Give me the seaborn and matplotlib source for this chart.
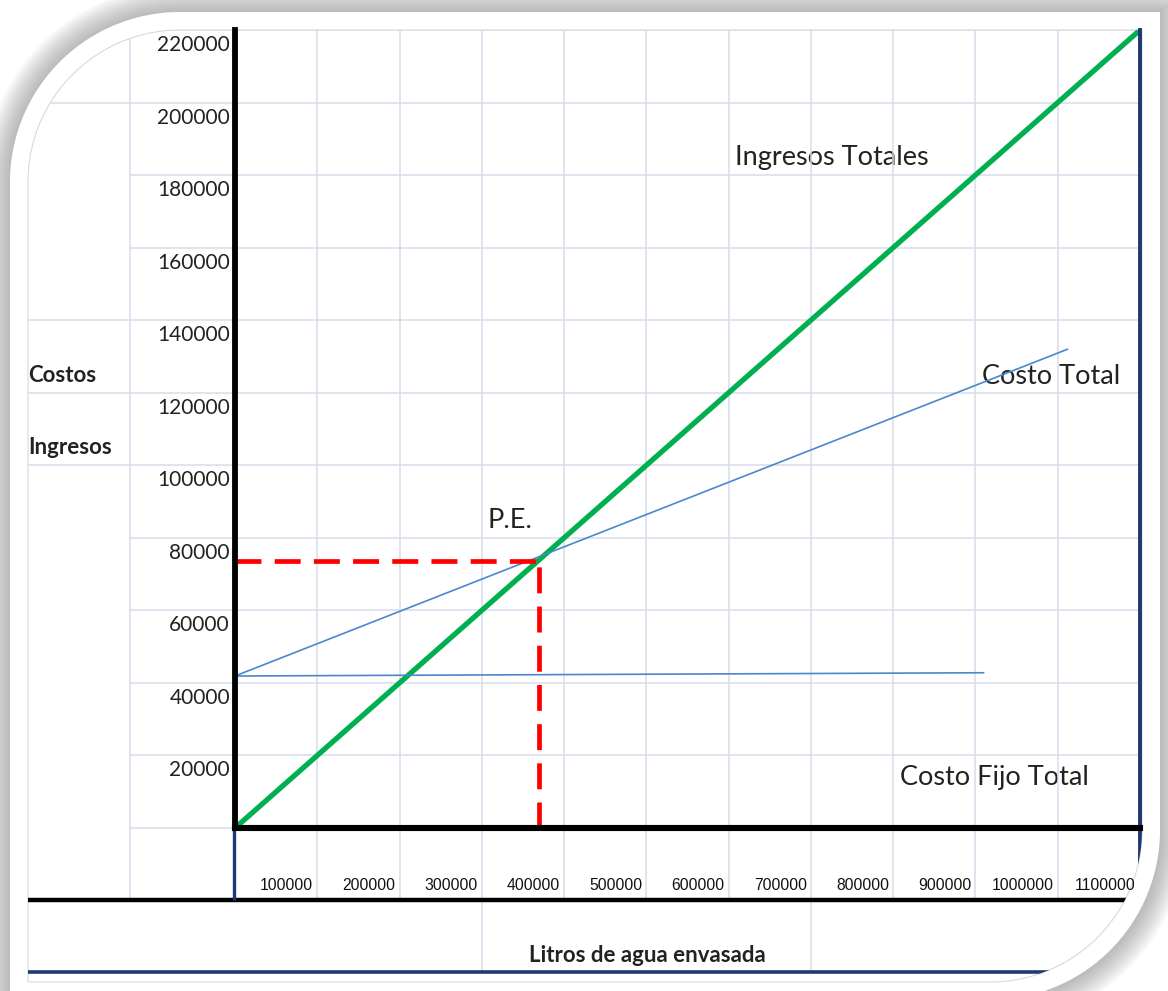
import numpy as np
import pandas as pd
import seaborn as sns
import matplotlib.pyplot as plt
from matplotlib.patches import Polygon

# --- datos ---
litros = [0, 1100000]
ingresos_totales = [0, 220000]

ct_litros = [0, 1012000]
costo_total = [41900, 132000]

cf_litros = [0, 910000]
costo_fijo = [41900, 42800]

pe_litros = 370000
pe_monto = 73500

x_ticks = [100000, 200000, 300000, 400000, 500000, 600000,
           700000, 800000, 900000, 1000000, 1100000]
y_ticks = [20000, 40000, 60000, 80000, 100000, 120000,
           140000, 160000, 180000, 200000, 220000]
x_labels = ["100000", "200000", "300000", "400000", "500000", "600000",
            "700000", "800000", "900000", "1000000", "1100000"]
y_labels = ["20000", "40000", "60000", "80000", "100000", "120000",
            "140000", "160000", "180000", "200000", "220000"]

sns.set_theme(style="white")
plt.rcParams["font.family"] = ["Lato", "DejaVu Sans"]

verde = "#00b050"
azul = "#4a88cc"
rojo = "#ff0000"
navy = "#1f3872"
grid_c = "#d6dce9"
txt_c = "#222222"
narrow = ["Liberation Sans", "DejaVu Sans"]

W, H = 1168, 991
X0, X1, Y0, Y1 = 235, 1140, 30, 828   # zona de la grafica en pixeles
cw = (X1 - X0) / 11
rh = (Y1 - Y0) / 11

fig = plt.figure(figsize=(W / 100, H / 100), dpi=100)
fig.patch.set_facecolor("white")

# fondo tipo hoja de calculo, en pixeles
bg = fig.add_axes([0, 0, 1, 1])
bg.set_xlim(0, W)
bg.set_ylim(H, 0)
bg.axis("off")


def marco(d):
    # rectangulo con esquinas redondeadas arriba-izq y abajo-der
    r = 152 + d
    tl = (180, 182)
    br = (990, 830)
    x0, y0, x1, y1 = 28 - d, 30 - d, 1142 + d, 982 + d
    t1 = np.linspace(np.pi, 1.5 * np.pi, 60)
    t2 = np.linspace(0, 0.5 * np.pi, 60)
    pts = [(x0, y1)]
    pts += list(zip(tl[0] + r * np.cos(t1), tl[1] + r * np.sin(t1)))
    pts += [(x1, y0)]
    pts += list(zip(br[0] + r * np.cos(t2), br[1] + r * np.sin(t2)))
    return np.array(pts)


# sombra
for d in range(44, 18, -2):
    bg.add_patch(Polygon(marco(d), closed=True, facecolor="#707070",
                         edgecolor="none", alpha=0.045))
bg.add_patch(Polygon(marco(18), closed=True, facecolor="white", edgecolor="none"))
bg.add_patch(Polygon(marco(0), closed=True, facecolor="none",
                     edgecolor="#d9d9d9", linewidth=0.8))
clip = Polygon(marco(0), closed=True, transform=bg.transData)

# celdas fuera de la grafica
col_lines = [X0 + i * cw for i in range(12)]
row_lines = [Y0 + i * rh for i in range(12)]
segs = []
for y in row_lines:
    segs.append(([130, X0], [y, y]))
for y in [row_lines[1], row_lines[4], row_lines[5], row_lines[6]]:
    segs.append(([28, 130], [y, y]))
segs.append(([130, 130], [Y0, 900]))
for x in col_lines[1:]:
    segs.append(([x, x], [Y1, 900]))
segs.append(([col_lines[3], col_lines[3]], [900, 972]))
segs.append(([col_lines[7], col_lines[7]], [900, 972]))
for xs, ys in segs:
    ln, = bg.plot(xs, ys, color=grid_c, linewidth=1.1)
    ln.set_clip_path(clip)

for xs, ys, c, lw in [([28, 1165], [900, 900], "black", 3.2),
                      ([28, 1165], [972, 972], navy, 2.6),
                      ([X0 - 1, X0 - 1], [Y1, 900], navy, 2.4),
                      ([X1, X1], [Y1, 920], navy, 2.8)]:
    ln, = bg.plot(xs, ys, color=c, linewidth=lw, solid_capstyle="butt")
    ln.set_clip_path(clip)

# grafica principal
ax = fig.add_axes([X0 / W, 1 - Y1 / H, (X1 - X0) / W, (Y1 - Y0) / H])
ax.patch.set_visible(False)
ax.set_xlim(0, 1100000)
ax.set_ylim(0, 220000)
ax.set_xticks(x_ticks)
ax.set_yticks(y_ticks)
ax.tick_params(labelbottom=False, labelleft=False, length=0)
ax.grid(True, color=grid_c, linewidth=1.1)
ax.spines["top"].set_visible(False)
ax.spines["left"].set_color("black")
ax.spines["left"].set_linewidth(4.2)
ax.spines["bottom"].set_color("black")
ax.spines["bottom"].set_linewidth(4.4)
ax.spines["right"].set_color(navy)
ax.spines["right"].set_linewidth(2.8)

df_it = pd.DataFrame({"litros": litros, "monto": ingresos_totales})
df_ct = pd.DataFrame({"litros": ct_litros, "monto": costo_total})
df_cf = pd.DataFrame({"litros": cf_litros, "monto": costo_fijo})
df_h = pd.DataFrame({"litros": [0, pe_litros], "monto": [pe_monto, pe_monto]})
df_v = pd.DataFrame({"litros": [pe_litros, pe_litros], "monto": [0, pe_monto]})

sns.lineplot(data=df_it, x="litros", y="monto", ax=ax, color=verde,
             linewidth=3.8, estimator=None, sort=False)
sns.lineplot(data=df_ct, x="litros", y="monto", ax=ax, color=azul,
             linewidth=1.2, estimator=None, sort=False)
sns.lineplot(data=df_cf, x="litros", y="monto", ax=ax, color=azul,
             linewidth=1.2, estimator=None, sort=False)
for dfr in (df_h, df_v):
    sns.lineplot(data=dfr, x="litros", y="monto", ax=ax, color=rojo,
                 linewidth=3.4, estimator=None, sort=False,
                 linestyle=(0, (5.5, 2.8)), dash_capstyle="butt")
ax.set_xlabel("")
ax.set_ylabel("")

# etiquetas de ejes (como celdas)
dx = 1100000 / (X1 - X0)
dy = 220000 / (Y1 - Y0)
for v, lab in zip(y_ticks, y_labels):
    ax.text(-5 * dx, v - 15 * dy, lab, ha="right", va="center",
            fontsize=15, color=txt_c, clip_on=False)
for v, lab in zip(x_ticks, x_labels):
    t = ax.text(v - 4 * dx, -57 * dy, lab, ha="right", va="center",
                fontsize=11.3, color="#111111", family=narrow, clip_on=False)
    t.set_clip_path(clip)

# textos
bg.text(735, 157, "Ingresos Totales", fontsize=19.5, color=txt_c, va="center")
bg.text(982, 376, "Costo Total", fontsize=19.5, color=txt_c, va="center")
bg.text(900, 778, "Costo Fijo Total", fontsize=19.5, color=txt_c, va="center")
bg.text(488, 520, "P.E.", fontsize=19.5, color=txt_c, va="center")
bg.text(28, 375, "Costos", fontsize=16, fontweight="bold", color=txt_c, va="center")
bg.text(28, 447, "Ingresos", fontsize=16, fontweight="bold", color=txt_c, va="center")
bg.text(647, 955, "Litros de agua envasada", fontsize=16, fontweight="bold",
        color=txt_c, ha="center", va="center")

fig.savefig("out.png", dpi=100)
